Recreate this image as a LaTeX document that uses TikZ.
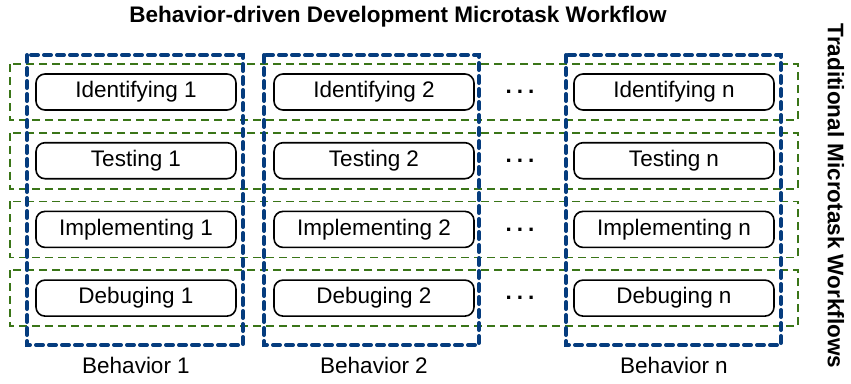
\documentclass[tikz,border=0pt]{standalone}
\usepackage{fontspec}
\setmainfont{Liberation Sans}
\begin{document}
\begin{tikzpicture}[x=1pt,y=-1pt,
  task/.style={draw=black, line width=1.6pt, rounded corners=9pt, minimum width=200pt, minimum height=36pt, inner sep=0pt, font=\fontsize{22.5}{25}\selectfont},
  rowbox/.style={draw=grn, dash pattern=on 8pt off 5pt, line width=1.8pt},
  colbox/.style={draw=blu, dash pattern=on 7pt off 6pt, line width=4pt, line cap=round},
  lbl/.style={font=\fontsize{22.5}{25}\selectfont},
  ttl/.style={font=\bfseries\fontsize{22.5}{26}\selectfont}]
\definecolor{grn}{HTML}{3A7518}
\definecolor{blu}{HTML}{053C7E}
\useasboundingbox (0,0) rectangle (851,383);
% rows (traditional workflows)
\foreach \r/\y in {1/92,2/160.7,3/229.4,4/298.1}{
  \draw[rowbox] (10,\y-28) rectangle (798,\y+28);
}
% columns (behaviors)
\draw[colbox] (27,55) rectangle (243,345);
\draw[colbox] (264,55) rectangle (479,345);
\draw[colbox] (566,55) rectangle (781,345);
% task boxes
\foreach \c/\x/\s in {a/136/1,b/374/2,n/674/n}{
  \node[task] (id\c) at (\x,92) {Identifying \s};
  \node[task] (te\c) at (\x,160.7) {Testing \s};
  \node[task] (im\c) at (\x,229.4) {Implementing \s};
  \node[task] (de\c) at (\x,298.1) {Debuging \s};
}
% dots
\foreach \y/\nm in {92/d1,160.7/d2,229.4/d3,298.1/d4}{
  \node[ttl] (\nm) at (520,\y) {.\hspace{5pt}.\hspace{5pt}.};
}
% labels
\node[lbl] (b1) at (136,365) {Behavior 1};
\node[lbl] (b2) at (374,365) {Behavior 2};
\node[lbl] (bn) at (674,365) {Behavior n};
\node[ttl] (title) at (398,17) {Behavior-driven Development Microtask Workflow};
\node[ttl, rotate=-90] (side) at (836,196) {Traditional Microtask Workflows};
\end{tikzpicture}
\end{document}
